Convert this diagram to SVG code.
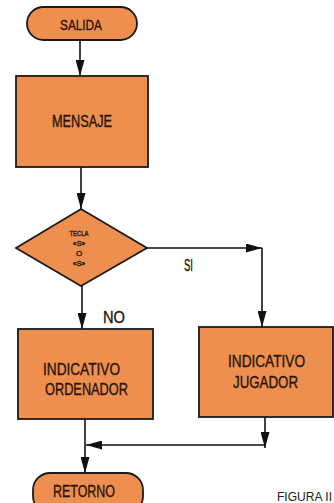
<svg xmlns="http://www.w3.org/2000/svg" width="334" height="503" viewBox="0 0 334 503">
<defs>
<marker id="ah" viewBox="0 0 16 10" refX="16" refY="5" markerWidth="16" markerHeight="9" markerUnits="userSpaceOnUse" orient="auto" preserveAspectRatio="none">
<path d="M0,0 L16,5 L0,10 Z" fill="#111"/>
</marker>
<style>
.n{fill:#EF8F4F;stroke:#1a1a1a;stroke-width:1.8}
.t{font-family:"Liberation Sans",Arial,sans-serif;fill:#24140a;stroke:#24140a;stroke-width:0.35;text-anchor:middle}
.c{fill:none;stroke:#111;stroke-width:1.6}
</style>
</defs>
<rect width="334" height="503" fill="#fff"/>
<g id="connectors">
<line class="c" x1="80" y1="40" x2="80" y2="76" marker-end="url(#ah)"/>
<line class="c" x1="81" y1="167" x2="81" y2="209" marker-end="url(#ah)"/>
<path class="c" d="M147,248 H262" marker-end="url(#ah)"/>
<line class="c" x1="262" y1="248" x2="262" y2="327" marker-end="url(#ah)"/>
<line class="c" x1="82" y1="286" x2="82" y2="329" marker-end="url(#ah)"/>
<line class="c" x1="265" y1="417" x2="265" y2="448" marker-end="url(#ah)"/>
<line class="c" x1="265" y1="445" x2="86" y2="445" marker-end="url(#ah)"/>
<line class="c" x1="85" y1="419" x2="85" y2="473" marker-end="url(#ah)"/>
</g>
<g id="salida">
<rect class="n" x="27" y="7" width="110" height="33" rx="16.5"/>
<text class="t" x="81" y="30" font-size="15" textLength="42" lengthAdjust="spacingAndGlyphs">SALIDA</text>
</g>
<g id="mensaje">
<rect class="n" x="16" y="76" width="132" height="91"/>
<text class="t" x="82" y="127" font-size="17" textLength="60" lengthAdjust="spacingAndGlyphs">MENSAJE</text>
</g>
<g id="tecla">
<polygon class="n" points="81,209 147,248 81,286 16,248"/>
<text class="t" x="79" y="236" font-size="7" stroke-width="0.15" textLength="19" lengthAdjust="spacingAndGlyphs">TECLA</text>
<text class="t" x="79" y="246" font-size="7" stroke-width="0.15">«S»</text>
<text class="t" x="79" y="256" font-size="8" stroke-width="0.15">O</text>
<text class="t" x="79" y="266" font-size="7" stroke-width="0.15">«S»</text>
</g>
<g id="labels">
<text class="t" x="188.5" y="271" font-size="16" textLength="9" lengthAdjust="spacingAndGlyphs">SI</text>
<text class="t" x="114" y="323" font-size="16" textLength="22" lengthAdjust="spacingAndGlyphs">NO</text>
</g>
<g id="ordenador">
<rect class="n" x="18" y="329" width="135" height="90"/>
<text class="t" x="81.5" y="375" font-size="17" textLength="77" lengthAdjust="spacingAndGlyphs">INDICATIVO</text>
<text class="t" x="86.5" y="395" font-size="17" textLength="83" lengthAdjust="spacingAndGlyphs">ORDENADOR</text>
</g>
<g id="jugador">
<rect class="n" x="199" y="327" width="134" height="90"/>
<text class="t" x="266.5" y="367" font-size="17" textLength="77" lengthAdjust="spacingAndGlyphs">INDICATIVO</text>
<text class="t" x="265.5" y="388" font-size="17" textLength="65" lengthAdjust="spacingAndGlyphs">JUGADOR</text>
</g>
<g id="retorno">
<rect class="n" x="33" y="473" width="110" height="40" rx="17"/>
<text class="t" x="84" y="497" font-size="17" textLength="62" lengthAdjust="spacingAndGlyphs">RETORNO</text>
</g>
<text x="277" y="501" font-family="Liberation Sans,Arial,sans-serif" font-size="12" fill="#222" textLength="55" lengthAdjust="spacingAndGlyphs">FIGURA II</text>
</svg>
